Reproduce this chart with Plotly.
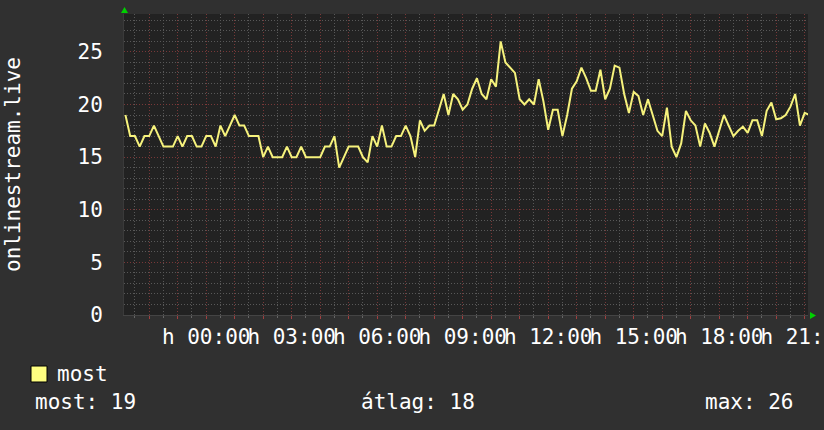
import pandas as pd
import plotly.graph_objects as go

# ---------------- data ----------------
series_name = "most"
y_axis_title = "onlinestream.live"
start_time = "2024-01-14 21:10"   # Sunday evening, 10-minute samples
step = "10min"
values = [
    19, 17, 17, 16, 17, 17, 18, 17, 16, 16,
    16, 17, 16, 17, 17, 16, 16, 17, 17, 16,
    18, 17, 18, 19, 18, 18, 17, 17, 17, 15,
    16, 15, 15, 15, 16, 15, 15, 16, 15, 15,
    15, 15, 16, 16, 17, 14, 15, 16, 16, 16,
    15, 14.5, 17, 16, 18, 16, 16, 17, 17, 18,
    17, 15, 18.5, 17.5, 18, 18, 19.5, 21, 19, 21,
    20.5, 19.5, 20, 21.5, 22.5, 21, 20.5, 22.4, 21.7, 26,
    24, 23.5, 23, 20.5, 20, 20.5, 20, 22.4, 20.3, 17.6,
    19.5, 19.5, 17, 19, 21.5, 22.2, 23.5, 22.5, 21.3, 21.3,
    23.3, 20.5, 21.5, 23.7, 23.5, 21, 19.2, 21.2, 20.8, 19,
    20.5, 19, 17.5, 17, 19.7, 16, 15, 16.3, 19.4, 18.5,
    18, 16, 18.2, 17.3, 16, 17.5, 19, 18, 17, 17.5,
    17.9, 17.3, 18.5, 18.5, 17, 19.4, 20.2, 18.6, 18.7, 19,
    19.8, 21, 18, 19.2, 19,
]
x_range = ["2024-01-14 21:07", "2024-01-15 21:07"]
hour_ticks = pd.date_range("2024-01-14 22:00", "2024-01-15 21:00", freq="h")
tick_labels = ["h %s" % t.strftime("%H:%M") if t.hour % 3 == 0 else "" for t in hour_ticks]
y_ticks = [0, 5, 10, 15, 20, 25]
stat_labels = ["most", "átlag", "max"]

times = pd.date_range(start_time, periods=len(values), freq=step)
stat_values = [values[-1], sum(values) / len(values), max(values)]

# ---------------- style / layout ----------------
W, H = 824, 430
L, R, T, B = 124, 16, 14, 115
PW, PH = W - L - R, H - T - B
FONT = "DejaVu Sans Mono"
LINE_COLOR = "#f6f27c"
MAJOR = "#783838"
MINOR = "#585858"


def px(x):
    return (x - L) / PW


def py(y):
    return (H - B - y) / PH


fig = go.Figure()
fig.add_trace(go.Scatter(
    x=times, y=values, mode="lines", name=series_name,
    line=dict(color=LINE_COLOR, width=2), showlegend=False, hoverinfo="skip",
))

fig.update_layout(
    width=W, height=H,
    margin=dict(l=L, r=R, t=T, b=B, autoexpand=False),
    paper_bgcolor="#303030",
    plot_bgcolor="#222222",
    font=dict(family=FONT, size=21, color="#ffffff"),
    showlegend=False,
)
fig.update_xaxes(
    type="date", range=x_range, automargin=False,
    tickmode="array", tickvals=hour_ticks, ticktext=tick_labels, tickangle=0,
    ticklabeloverflow="allow",
    showgrid=True, gridcolor=MAJOR, griddash="1px,2px", gridwidth=1,
    ticks="outside", ticklen=3, tickcolor="#a04040",
    minor=dict(dtick=30 * 60 * 1000, showgrid=True, gridcolor=MINOR,
               griddash="1px,2px", ticks="outside", ticklen=2, tickcolor="#666666"),
    showline=True, linecolor="#444444", linewidth=1,
    zeroline=False, fixedrange=True,
    tickfont=dict(family=FONT, size=21, color="#ffffff"),
)
fig.update_yaxes(
    range=[0, 28.6], tickmode="array", tickvals=y_ticks, automargin=False,
    showgrid=True, gridcolor=MAJOR, griddash="1px,2px", gridwidth=1,
    minor=dict(dtick=1, showgrid=True, gridcolor=MINOR, griddash="1px,2px"),
    ticks="", ticklabelstandoff=16,
    showline=True, linecolor="#3a3a3a", linewidth=1,
    zeroline=False, fixedrange=True,
    tickfont=dict(family=FONT, size=21, color="#ffffff"),
)

# green arrows at axis ends
fig.add_shape(type="path", xref="paper", yref="paper",
              path="M %f %f L %f %f L %f %f Z" % (px(121), py(13), px(128), py(13), px(124.5), py(7)),
              fillcolor="#00d000", line=dict(width=0))
fig.add_shape(type="path", xref="paper", yref="paper",
              path="M %f %f L %f %f L %f %f Z" % (px(810), py(312), px(810), py(319), px(816), py(315.5)),
              fillcolor="#00d000", line=dict(width=0))

# y axis title
fig.add_annotation(text=y_axis_title, xref="paper", yref="paper",
                   x=px(13), y=py(165), textangle=-90, showarrow=False,
                   xanchor="center", yanchor="middle",
                   font=dict(family=FONT, size=21, color="#ffffff"))

# legend swatch + label
fig.add_shape(type="rect", xref="paper", yref="paper",
              x0=px(31), x1=px(47), y0=py(382), y1=py(366),
              fillcolor="#ffff80", line=dict(color="#000000", width=1))
fig.add_annotation(text=series_name, xref="paper", yref="paper",
                   x=px(55), y=py(374), showarrow=False,
                   xanchor="left", yanchor="middle",
                   font=dict(family=FONT, size=21, color="#ffffff"))

# statistics row
stat_x = [33, 359, 703]
for lab, val, sx in zip(stat_labels, stat_values, stat_x):
    fig.add_annotation(text="%s: %.0f" % (lab, val), xref="paper", yref="paper",
                       x=px(sx), y=py(402), showarrow=False,
                       xanchor="left", yanchor="middle",
                       font=dict(family=FONT, size=21, color="#ffffff"))

fig.write_html(
    "out.html",
    config={"displayModeBar": False},
    post_script="document.body.style.margin='0';document.body.style.overflow='hidden';",
)
